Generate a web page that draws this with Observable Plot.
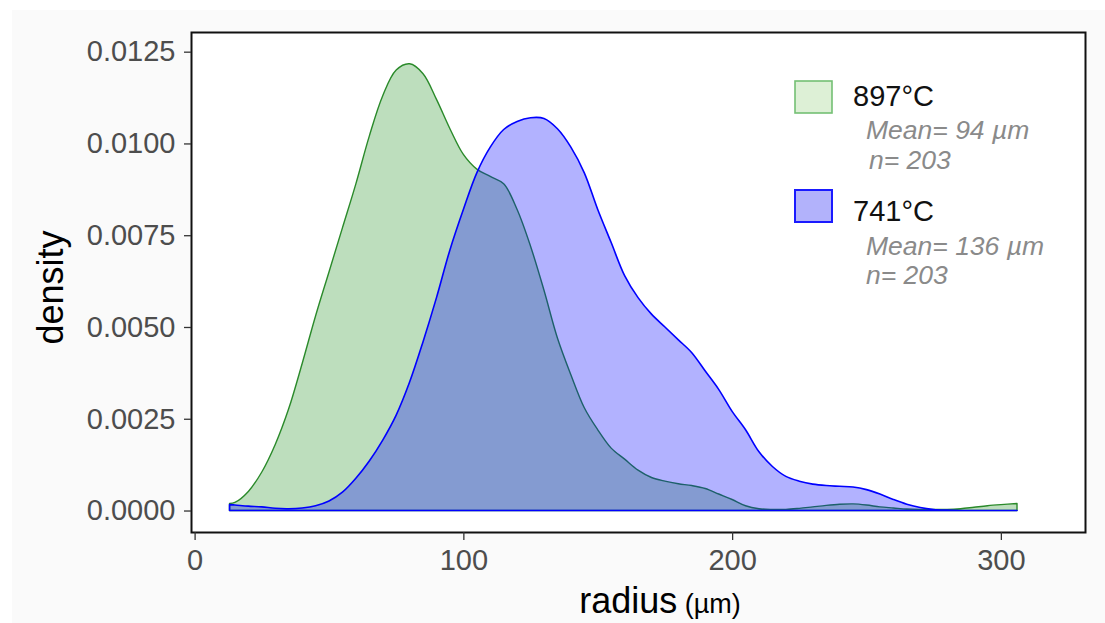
<!DOCTYPE html>
<html>
<head>
<meta charset="utf-8">
<script src="https://cdn.jsdelivr.net/npm/d3@7"></script>
<script src="https://cdn.jsdelivr.net/npm/@observablehq/plot@0.6"></script>
<style>
  html, body { margin: 0; padding: 0; background: #ffffff; }
  #wrap { position: relative; width: 1105px; height: 623px; overflow: hidden; }
  #bg { position: absolute; left: 12px; top: 10px; right: 0; bottom: 0; background: #fafafa; }
  #chart { position: absolute; left: 0; top: 0; }
</style>
</head>
<body>
<div id="wrap"><div id="bg"></div><div id="chart"></div></div>
<script>
// Grain radius grid (µm) at which the kernel density estimates are tabulated
const radius = [13, 15, 20, 25, 30, 35, 40, 45, 50, 55, 60, 65, 70, 75, 80, 85, 90, 95, 100,
  105, 110, 115, 120, 125, 130, 135, 140, 145, 150, 155, 160, 165, 170, 175, 180, 185, 190,
  195, 200, 205, 210, 215, 220, 225, 230, 235, 240, 245, 250, 255, 260, 265, 270, 275, 280,
  285, 290, 295, 300, 306];

// Density for the 897 °C sample
const density897 = [0.00019, 0.00022, 0.00052, 0.00105, 0.0018, 0.00277, 0.0040, 0.0053, 0.0065,
  0.0077, 0.0089, 0.0102, 0.0113, 0.0120, 0.01217, 0.0119, 0.0112, 0.0104, 0.0097,
  0.0093, 0.0091, 0.0089, 0.0082, 0.0072, 0.0060, 0.0047, 0.0037, 0.0028, 0.0022, 0.0017,
  0.0014, 0.0011, 0.0009, 0.0008, 0.00073, 0.00068, 0.0006, 0.00045, 0.0003, 0.00013,
  0.00005, 0.00003, 0.00003, 0.00006, 0.0001, 0.00014, 0.00017, 0.00018, 0.00015, 0.0001,
  0.00007, 0.00004, 0.00003, 0.00003, 0.00003, 0.00005, 0.00009, 0.00013, 0.00016, 0.00019];

// Density for the 741 °C sample
const density741 = [0.00016, 0.00015, 0.00012, 0.0001, 0.00006, 0.00005, 0.00007, 0.00013, 0.00026,
  0.0005, 0.00088, 0.00135, 0.00192, 0.0026, 0.0035, 0.0046, 0.0058, 0.0071, 0.0082,
  0.0092, 0.0099, 0.01038, 0.0106, 0.0107, 0.01068, 0.0104, 0.0099, 0.0092, 0.0082, 0.0073,
  0.0064, 0.0058, 0.00535, 0.0050, 0.00465, 0.0043, 0.0038, 0.0033, 0.0027, 0.0022,
  0.0016, 0.0012, 0.00093, 0.0008, 0.00072, 0.00068, 0.00066, 0.00064, 0.00057, 0.00045,
  0.0003, 0.00017, 0.00008, 0.00003, 0.00001, 0, 0, 0, 0, 0];

// Axis ticks
const xTicks = [0, 100, 200, 300];
const yTicks = [0, 0.0025, 0.005, 0.0075, 0.01, 0.0125];

// Legend content
const seriesLabels = ["897°C", "741°C"];
const seriesMeans = ["Mean= 94 µm", "Mean= 136 µm"];
const seriesCounts = ["n= 203", "n= 203"];

const rows897 = radius.map((r, i) => ({radius: r, density: density897[i]}));
const rows741 = radius.map((r, i) => ({radius: r, density: density741[i]}));

const font = "'Liberation Sans', Arial, Helvetica, sans-serif";

const svg = Plot.plot({
  width: 1105,
  height: 623,
  marginLeft: 191,
  marginRight: 20,
  marginTop: 32,
  marginBottom: 91,
  style: {background: "transparent", fontFamily: font, overflow: "visible"},
  x: {domain: [-1.34, 331.3]},
  y: {domain: [-0.000585, 0.013036]},
  marks: [
    Plot.frame({fill: "white"}),
    Plot.areaY(rows897, {
      x: "radius", y: "density", curve: "catmull-rom",
      fill: "#008000", fillOpacity: 0.26, stroke: "#2a8a2a", strokeWidth: 1.4
    }),
    Plot.areaY(rows741, {
      x: "radius", y: "density", curve: "catmull-rom",
      fill: "#0000ff", fillOpacity: 0.3, stroke: "#0000ff", strokeWidth: 1.6
    }),
    Plot.frame({stroke: "#111", strokeWidth: 2}),
    Plot.axisX({
      ticks: xTicks, tickSize: 8, tickPadding: 9, fontSize: 29,
      fill: "#4d4d4d", stroke: "#333", strokeWidth: 1.3, label: null
    }),
    Plot.axisY({
      ticks: yTicks, tickFormat: d => d.toFixed(4), tickSize: 7, tickPadding: 9, fontSize: 29,
      fill: "#4d4d4d", stroke: "#333", strokeWidth: 1.3, label: null
    }),
    Plot.text(["density"], {
      frameAnchor: "left", rotate: -90, lineAnchor: "top", textAnchor: "middle",
      dx: -154, dy: 5, fontSize: 36, fill: "#000"
    })
  ]
});

const root = d3.select(svg);

// x-axis title with a smaller unit
const xt = root.append("text")
  .attr("x", 660).attr("y", 613)
  .attr("text-anchor", "middle")
  .attr("font-family", font)
  .attr("fill", "#000");
xt.append("tspan").attr("font-size", 36).text("radius");
xt.append("tspan").attr("font-size", 27).text(" (µm)");

// Legend inside the panel, top right
const swatchFill = ["#ddf0d6", "#b2b2fb"];
const swatchStroke = ["#74c074", "#1a1aff"];
const swatchTop = [81, 190];
const labelBase = [105.5, 221];
const meanBase = [139, 255];
const countBase = [169, 284];
const countLeft = [869, 866];

const lg = root.append("g").attr("font-family", font).attr("text-anchor", "start");
seriesLabels.forEach((lab, i) => {
  lg.append("rect")
    .attr("x", 795).attr("y", swatchTop[i])
    .attr("width", 37).attr("height", 32)
    .attr("fill", swatchFill[i])
    .attr("stroke", swatchStroke[i]).attr("stroke-width", i === 0 ? 1.6 : 2);
  lg.append("text")
    .attr("x", 853).attr("y", labelBase[i])
    .attr("font-size", 29).attr("fill", "#111").text(lab);
  lg.append("text")
    .attr("x", 866).attr("y", meanBase[i])
    .attr("font-size", 26.5).attr("font-style", "italic").attr("fill", "#8a8a8a")
    .text(seriesMeans[i]);
  lg.append("text")
    .attr("x", countLeft[i]).attr("y", countBase[i])
    .attr("font-size", 26.5).attr("font-style", "italic").attr("fill", "#8a8a8a")
    .text(seriesCounts[i]);
});

document.getElementById("chart").appendChild(svg);
</script>
</body>
</html>
